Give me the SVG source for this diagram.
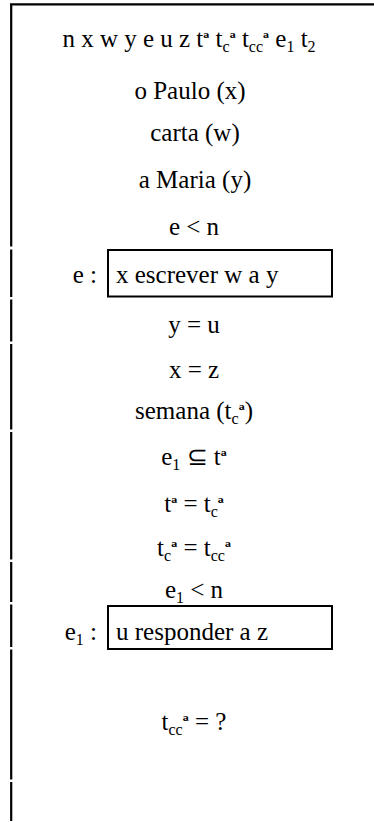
<svg xmlns="http://www.w3.org/2000/svg" width="374" height="822" viewBox="0 0 374 822">
<style>
text{font-family:"Liberation Serif","Times New Roman",serif;font-size:25px;fill:#000}
.c{text-anchor:middle}
.e{text-anchor:end}
.sub{font-size:16px}
.sup{font-size:20px;font-weight:bold}
.frame{stroke:#000;stroke-width:2.2;fill:none}
.box{stroke:#000;stroke-width:2;fill:#fff}
</style>
<rect width="374" height="822" fill="#fff"/>
<g id="frame">
<line class="frame" x1="10" y1="4.3" x2="374" y2="4.3"/>
<path class="frame" d="M11.2 4 V246.5 M11.2 249.5 V297 M11.2 299.5 V341.5 M11.2 344 V429.5 M11.2 432 V559.5 M11.2 562 V602 M11.2 604.5 V647 M11.2 649.5 V779.5 M11.2 782 V821"/>
</g>
<g id="line1"><text class="c" x="189" y="47">n x w y e u z t<tspan class="sup" dy="-1">ª</tspan><tspan dy="1"> t</tspan><tspan class="sub" dy="5">c</tspan><tspan class="sup" dy="-6">ª</tspan><tspan dy="1"> t</tspan><tspan class="sub" dy="5">cc</tspan><tspan class="sup" dy="-6">ª</tspan><tspan dy="1"> e</tspan><tspan class="sub" dy="5">1</tspan><tspan dy="-5"> t</tspan><tspan class="sub" dy="5">2</tspan></text></g>
<g id="paulo"><text class="c" x="190" y="99">o Paulo (x)</text></g>
<g id="carta"><text class="c" x="195" y="141">carta (w)</text></g>
<g id="maria"><text class="c" x="195" y="188">a Maria (y)</text></g>
<g id="e-lt-n"><text class="c" x="194" y="235">e &lt; n</text></g>
<g id="event-e">
<text class="e" x="97" y="283">e :</text>
<rect class="box" x="108" y="250" width="224" height="46.5"/>
<text x="116" y="283">x escrever w a y</text>
</g>
<g id="y-eq-u"><text class="c" x="194" y="333">y = u</text></g>
<g id="x-eq-z"><text class="c" x="194" y="378">x = z</text></g>
<g id="semana"><text class="c" x="194" y="419">semana (t<tspan class="sub" dy="5">c</tspan><tspan class="sup" dy="-6">ª</tspan><tspan dy="1">)</tspan></text></g>
<g id="e1-sub-t"><text class="c" x="194" y="465">e<tspan class="sub" dy="5">1</tspan><tspan dy="-5"> ⊆ t</tspan><tspan class="sup" dy="-1">ª</tspan></text></g>
<g id="t-eq-tc"><text class="c" x="194" y="512">t<tspan class="sup" dy="-1">ª</tspan><tspan dy="1"> = t</tspan><tspan class="sub" dy="5">c</tspan><tspan class="sup" dy="-6">ª</tspan></text></g>
<g id="tc-eq-tcc"><text class="c" x="194" y="556">t<tspan class="sub" dy="5">c</tspan><tspan class="sup" dy="-6">ª</tspan><tspan dy="1"> = t</tspan><tspan class="sub" dy="5">cc</tspan><tspan class="sup" dy="-6">ª</tspan></text></g>
<g id="e1-lt-n"><text class="c" x="194" y="598">e<tspan class="sub" dy="5">1</tspan><tspan dy="-5"> &lt; n</tspan></text></g>
<g id="event-e1">
<text class="e" x="97" y="640">e<tspan class="sub" dy="5">1</tspan><tspan dy="-5"> :</tspan></text>
<rect class="box" x="108" y="606" width="224" height="43"/>
<text x="116" y="640">u responder a z</text>
</g>
<g id="tcc-q"><text class="c" x="194" y="730">t<tspan class="sub" dy="5">cc</tspan><tspan class="sup" dy="-6">ª</tspan><tspan dy="1"> = ?</tspan></text></g>
</svg>
